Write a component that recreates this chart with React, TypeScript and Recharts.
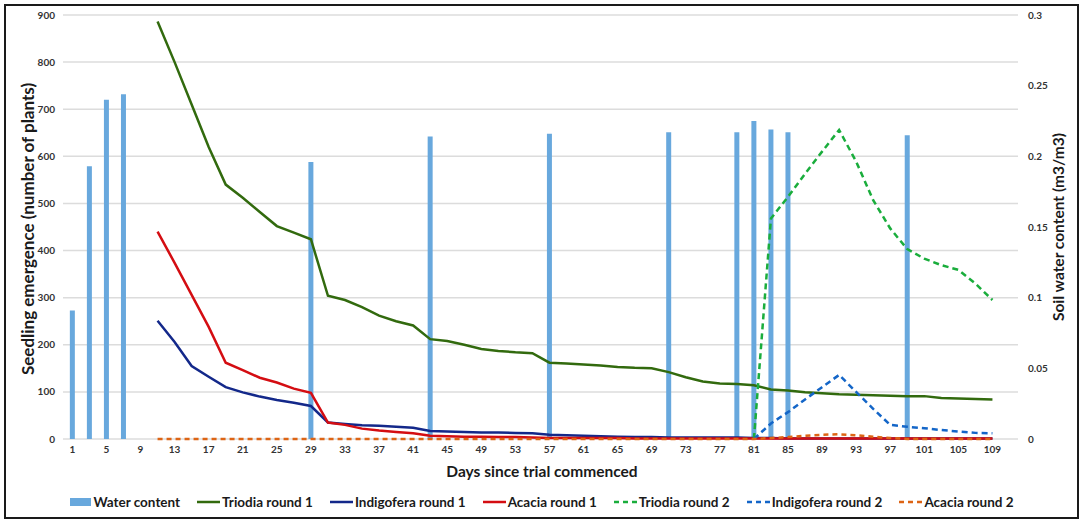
import React from 'react';
import { ComposedChart, Bar, Line, XAxis, YAxis, CartesianGrid } from 'recharts';

// sampling days (every second day of the trial)
const days = [
  1, 3, 5, 7, 9, 11, 13, 15, 17, 19,
  21, 23, 25, 27, 29, 31, 33, 35, 37, 39,
  41, 43, 45, 47, 49, 51, 53, 55, 57, 59,
  61, 63, 65, 67, 69, 71, 73, 75, 77, 79,
  81, 83, 85, 87, 89, 91, 93, 95, 97, 99,
  101, 103, 105, 107, 109,
];

// soil water content (m3/m3), right axis
const waterContent = [
  0.091, 0.193, 0.24, 0.244, null, null, null, null, null, null,
  null, null, null, null, 0.196, null, null, null, null, null,
  null, 0.214, null, null, null, null, null, null, 0.216, null,
  null, null, null, null, null, 0.217, null, null, null, 0.217,
  0.225, 0.219, 0.217, null, null, null, null, null, null, 0.215,
  null, null, null, null, null,
];

const triodia1 = [
  null, null, null, null, null, 886, 800, 710, 620, 540,
  512, 482, 452, 438, 424, 304, 295, 280, 262, 250,
  241, 212, 208, 200, 191, 187, 184, 182, 162, 160,
  158, 156, 153, 151, 150, 142, 131, 122, 118, 117,
  114, 105, 103, 99, 97, 95, 94, 93, 92, 91,
  91, 87, 86, 85, 84,
];

const indigofera1 = [
  null, null, null, null, null, 251, 206, 155, 132, 110,
  99, 90, 83, 77, 70, 35, 32, 29, 28, 26,
  24, 17, 16, 15, 14, 14, 13, 12, 9, 8,
  7, 6, 5, 4, 4, 3, 3, 3, 3, 3,
  2, 2, 1, 1, 1, 1, 1, 1, 1, 1,
  1, 1, 1, 1, 1,
];

const acacia1 = [
  null, null, null, null, null, 440, 374, 306, 238, 162,
  146, 130, 120, 107, 98, 35, 30, 22, 18, 15,
  12, 7, 6, 5, 5, 4, 4, 3, 2, 2,
  2, 2, 2, 1, 1, 1, 1, 1, 1, 1,
  1, 1, 1, 1, 1, 1, 1, 1, 1, 1,
  1, 1, 1, 1, 1,
];

const triodia2 = [
  null, null, null, null, null, null, null, null, null, null,
  null, null, null, null, null, null, null, null, null, null,
  null, null, null, null, null, null, null, null, null, null,
  null, null, null, null, null, null, null, null, null, null,
  0, 468, 514, 563, 610, 656, 589, 507, 447, 403,
  383, 369, 359, 330, 295,
];

const indigofera2 = [
  null, null, null, null, null, null, null, null, null, null,
  null, null, null, null, null, null, null, null, null, null,
  null, null, null, null, null, null, null, null, null, null,
  null, null, null, null, null, null, null, null, null, null,
  0, 33, 57, 84, 110, 136, 100, 64, 30, 26,
  23, 19, 16, 13, 12,
];

const acacia2 = [
  null, null, null, null, null, 0, 0, 0, 0, 0,
  0, 0, 0, 0, 0, 0, 0, 0, 0, 0,
  0, 0, 0, 0, 0, 0, 0, 0, 0, 0,
  0, 0, 0, 0, 0, 0, 0, 0, 0, 0,
  0, 2, 4, 7, 9, 10, 8, 5, 2, 0,
  0, 0, 0, 0, 0,
];

const xTicks = [1, 5, 9, 13, 17, 21, 25, 29, 33, 37, 41, 45, 49, 53, 57, 61, 65, 69, 73, 77, 81, 85, 89, 93, 97, 101, 105, 109];
const leftTicks = [0, 100, 200, 300, 400, 500, 600, 700, 800, 900];
const rightTicks = [0, 0.05, 0.1, 0.15, 0.2, 0.25, 0.3];

const data = days.map((day, i) => ({
  day,
  water: waterContent[i],
  triodia1: triodia1[i],
  indigofera1: indigofera1[i],
  acacia1: acacia1[i],
  triodia2: triodia2[i],
  indigofera2: indigofera2[i],
  acacia2: acacia2[i],
}));

const FONT = 'Lato, "Open Sans", sans-serif';
const tickStyle = { fontSize: 10, fontWeight: 700, fill: '#333', fontFamily: FONT };

const legendItems = [
  { label: 'Water content', color: '#68a8dd', kind: 'bar' },
  { label: 'Triodia round 1', color: '#326a0e', kind: 'line' },
  { label: 'Indigofera round 1', color: '#13288a', kind: 'line' },
  { label: 'Acacia round 1', color: '#d40d12', kind: 'line' },
  { label: 'Triodia round 2', color: '#1aad3c', kind: 'dash' },
  { label: 'Indigofera round 2', color: '#1466c8', kind: 'dash' },
  { label: 'Acacia round 2', color: '#dd6414', kind: 'dash' },
];

const LegendIcon = ({ color, kind }: { color: string; kind: string }) => {
  if (kind === 'bar') {
    return <span style={{ display: 'inline-block', width: 21, height: 8, background: color, marginRight: 2 }} />;
  }
  return (
    <svg width={23} height={6} style={{ marginRight: 2 }}>
      <line x1={0} y1={3} x2={23} y2={3} stroke={color} strokeWidth={2.5}
        strokeDasharray={kind === 'dash' ? '5 4' : undefined} />
    </svg>
  );
};

export default function App() {
  return (
    <div style={{ position: 'absolute', left: 0, top: 0, width: 1084, height: 522, background: '#fff', fontFamily: FONT }}>
      <div style={{ position: 'absolute', left: 4, top: 4, width: 1075, height: 515, border: '2px solid #1a1a1a', boxSizing: 'border-box' }} />
      <ComposedChart width={1084} height={522} data={data} margin={{ top: 15, right: 26, bottom: 53, left: 23 }}>
        <CartesianGrid yAxisId="left" vertical={false} stroke="#dcdcdc" strokeWidth={1.5} />
        <XAxis dataKey="day" type="number" domain={[-0.1, 112]} ticks={xTicks} interval={0}
          axisLine={false} tickLine={false} tick={tickStyle} tickMargin={1} height={30} allowDataOverflow />
        <YAxis yAxisId="left" domain={[0, 900]} ticks={leftTicks} axisLine={false} tickLine={false}
          tick={tickStyle} width={40} tickMargin={2} />
        <YAxis yAxisId="right" orientation="right" domain={[0, 0.3]} ticks={rightTicks} axisLine={false}
          tickLine={false} tick={{ ...tickStyle, textAnchor: 'start' }} width={40} tickMargin={4} />
        <Bar yAxisId="right" dataKey="water" fill="#68a8dd" barSize={5} isAnimationActive={false} />
        <Line yAxisId="left" dataKey="triodia1" stroke="#326a0e" strokeWidth={2.5} dot={false} isAnimationActive={false} />
        <Line yAxisId="left" dataKey="indigofera1" stroke="#13288a" strokeWidth={2.5} dot={false} isAnimationActive={false} />
        <Line yAxisId="left" dataKey="acacia1" stroke="#d40d12" strokeWidth={2.5} dot={false} isAnimationActive={false} />
        <Line yAxisId="left" dataKey="triodia2" stroke="#1aad3c" strokeWidth={2.5} strokeDasharray="6 4" dot={false} isAnimationActive={false} />
        <Line yAxisId="left" dataKey="indigofera2" stroke="#1466c8" strokeWidth={2.5} strokeDasharray="6 4" dot={false} isAnimationActive={false} />
        <Line yAxisId="left" dataKey="acacia2" stroke="#dd6414" strokeWidth={2.5} strokeDasharray="5 4" dot={false} isAnimationActive={false} />
      </ComposedChart>
      <svg width={1084} height={522} style={{ position: 'absolute', left: 0, top: 0, pointerEvents: 'none' }}>
        <text x={27} y={229} transform="rotate(-90 27 229)" textAnchor="middle" dominantBaseline="central"
          fontSize={17} fontWeight={700} fill="#1a1a1a" fontFamily={FONT}>
          Seedling emergence (number of plants)
        </text>
        <text x={1058} y={227} transform="rotate(-90 1058 227)" textAnchor="middle" dominantBaseline="central"
          fontSize={15.5} fontWeight={700} fill="#1a1a1a" fontFamily={FONT}>
          Soil water content (m3/m3)
        </text>
        <text x={542} y={471} textAnchor="middle" dominantBaseline="central"
          fontSize={15.5} fontWeight={700} fill="#1a1a1a" fontFamily={FONT}>
          Days since trial commenced
        </text>
      </svg>
      <div style={{ position: 'absolute', left: 0, top: 492, width: 1084, display: 'flex', justifyContent: 'center', gap: 17,
        fontSize: 13.5, fontWeight: 700, color: '#1a1a1a', whiteSpace: 'nowrap' }}>
        {legendItems.map((it) => (
          <div key={it.label} style={{ display: 'flex', alignItems: 'center', height: 20 }}>
            <LegendIcon color={it.color} kind={it.kind} />
            <span>{it.label}</span>
          </div>
        ))}
      </div>
    </div>
  );
}
